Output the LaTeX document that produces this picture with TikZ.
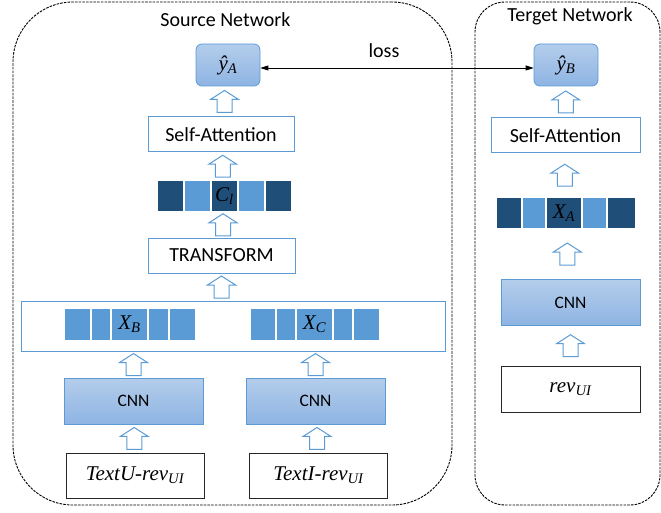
\documentclass[tikz,border=0pt]{standalone}
\usepackage[no-math]{fontspec}
\setmainfont{Carlito}
\newfontfamily\mathtxt{Liberation Serif}
\usetikzlibrary{arrows.meta, positioning, calc}

\definecolor{boxblue}{HTML}{5B9BD5}
\definecolor{celldark}{HTML}{1F4E79}
\definecolor{celllight}{HTML}{5B9BD5}
\definecolor{gradtop}{HTML}{B4CDEB}
\definecolor{gradbot}{HTML}{8EB4E3}

% italic label with subscript
\newcommand{\mlbl}[2]{{\mathtxt\itshape #1\textsubscript{#2}}}

\tikzset{
  upblock/.pic={
    \draw[boxblue, line width=1pt, fill=white, line join=miter]
      (-7.5,11) -- (-7.5,-2) -- (-14,-2) -- (0,-11) -- (14,-2) -- (7.5,-2) -- (7.5,11) -- cycle;
  }
}

\begin{document}
\begin{tikzpicture}[
    x=1pt, y=-1pt,
    font=\fontsize{20}{24}\selectfont,
    netbox/.style={
      draw, line width=0.9pt,
      dash pattern=on 2.6pt off 1.1pt,
      minimum height=503, inner sep=0pt
    },
    plainbox/.style={
      draw=boxblue, line width=1pt, fill=white,
      minimum height=35, inner sep=0pt
    },
    bigbox/.style={
      draw=boxblue, line width=1pt,
      minimum width=424, minimum height=50, inner sep=0pt
    },
    cnnbox/.style={
      draw=boxblue, line width=0.8pt,
      top color=gradtop, bottom color=gradbot,
      minimum width=139, minimum height=46, inner sep=0pt,
      font=\fontsize{17.5}{20}\selectfont
    },
    outbox/.style={
      cnnbox, rounded corners=6pt,
      minimum width=64, minimum height=42,
      font=\fontsize{21}{24}\selectfont
    },
    inbox/.style={
      draw=black!85, line width=0.9pt, fill=white,
      minimum width=138, minimum height=45, inner sep=0pt,
      font=\fontsize{21}{24}\selectfont
    },
    dcell/.style={
      fill=celldark, draw=white, line width=1.2pt,
      minimum height=32, inner sep=0pt, outer sep=0pt,
      font=\fontsize{21}{24}\selectfont
    },
    lcell/.style={dcell, fill=celllight},
    lossarrow/.style={{Triangle[length=8pt,width=5pt]}-{Triangle[length=8pt,width=5pt]}, line width=0.9pt}
]
\useasboundingbox (0,0) rectangle (661,513);

% --- Network frames ---
\node[netbox, minimum width=439, rounded corners=60pt] (srcnet) at (232.5,253.5) {};
\node[netbox, minimum width=185, rounded corners=30pt] (tgtnet) at (567.5,253.5) {};
\node (srctitle) at (225.5,20) {Source Network};
\node (tgttitle) at (570,16) {Terget Network};

% --- Source network ---
\node[outbox] (ya) at (228,65) {\mlbl{ŷ}{A}};
\node[plainbox, minimum width=146] (sa) at (221,134.5) {Self-Attention};

\node[dcell, minimum width=27, anchor=west] (cl1) at (157,196) {};
\node[lcell, minimum width=27, right=0pt of cl1] (cl2) {};
\node[dcell, minimum width=27, right=0pt of cl2] (cl3) {\mlbl{C}{l}};
\node[lcell, minimum width=27, right=0pt of cl3] (cl4) {};
\node[dcell, minimum width=27, right=0pt of cl4] (cl5) {};

\node[plainbox, minimum width=147] (tr) at (221.5,255.5) {TRANSFORM};

\node[bigbox] (feat) at (233,326) {};
\node[lcell, minimum width=27, anchor=west] (xb1) at (64,324.5) {};
\node[lcell, minimum width=20, right=0pt of xb1] (xb2) {};
\node[lcell, minimum width=37, right=0pt of xb2] (xb3) {\mlbl{X}{B}};
\node[lcell, minimum width=21, right=0pt of xb3] (xb4) {};
\node[lcell, minimum width=27, right=0pt of xb4] (xb5) {};

\node[lcell, minimum width=26, anchor=west] (xc1) at (250,324.5) {};
\node[lcell, minimum width=20, right=0pt of xc1] (xc2) {};
\node[lcell, minimum width=37, right=0pt of xc2] (xc3) {\mlbl{X}{C}};
\node[lcell, minimum width=20, right=0pt of xc3] (xc4) {};
\node[lcell, minimum width=27, right=0pt of xc4] (xc5) {};

\node[cnnbox] (cnnu) at (133.5,401) {CNN};
\node[cnnbox] (cnni) at (315.5,401) {CNN};
\node[inbox] (textu) at (135,475.5) {\mlbl{TextU-rev}{UI}};
\node[inbox] (texti) at (318.5,475.5) {\mlbl{TextI-rev}{UI}};

% --- Target network ---
\node[outbox] (yb) at (566,65) {\mlbl{ŷ}{B}};
\node[plainbox, minimum width=149] (sa2) at (565.5,135.5) {Self-Attention};

\node[dcell, minimum width=26, anchor=west] (xa1) at (496,213) {};
\node[lcell, minimum width=24, right=0pt of xa1] (xa2) {};
\node[dcell, minimum width=36, right=0pt of xa2] (xa3) {\mlbl{X}{A}};
\node[lcell, minimum width=25, right=0pt of xa3] (xa4) {};
\node[dcell, minimum width=29, right=0pt of xa4] (xa5) {};

\node[cnnbox] (cnn2) at (570.5,302.5) {CNN};
\node[inbox, minimum width=139, minimum height=46] (rev) at (570.5,389) {\mlbl{rev}{UI}};

% --- Hollow arrows ---
\pic at ($(ya.south)!0.5!(sa.north)$) {upblock};
\pic at ($(sa.south)!0.5!(cl3.north)$) {upblock};
\pic at ($(cl3.south)!0.5!(tr.north)$) {upblock};
\pic at ($(tr.south)!0.5!(tr.south|-feat.north)$) {upblock};
\pic at ($(cnnu.north)!0.5!(cnnu.north|-feat.south)$) {upblock};
\pic at ($(cnni.north)!0.5!(cnni.north|-feat.south)$) {upblock};
\pic at ($(textu.north)!0.5!(cnnu.south)$) {upblock};
\pic at ($(texti.north)!0.5!(cnni.south)$) {upblock};

\pic at ($(yb.south)!0.5!(sa2.north)$) {upblock};
\pic at ($(sa2.south)!0.5!(xa3.north)$) {upblock};
\pic at ($(xa3.south)!0.5!(cnn2.north)$) {upblock};
\pic at ($(cnn2.south)!0.5!(rev.north)$) {upblock};

% --- Loss ---
\draw[lossarrow] ([yshift=-3pt]ya.east) -- ([yshift=-3pt]yb.west);
\node (losslbl) at (384,51) {loss};

\end{tikzpicture}
\end{document}
